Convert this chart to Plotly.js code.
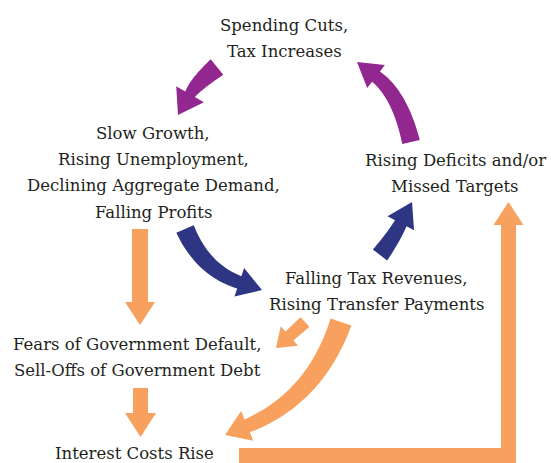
<!DOCTYPE html>
<html>
<head>
<meta charset="utf-8">
<script src="https://cdn.plot.ly/plotly-3.0.1.min.js"></script>
<style>html,body{margin:0;padding:0;background:#fff}#chart{width:551px;height:463px}</style>
</head>
<body>
<div id="chart"></div>
<script>
// ---- Diagram content (node labels, one entry per text line) ----
const nodeNames = ["cuts", "slow", "deficits", "taxrev", "fears", "interest"];
const nodeLines = [
  ["Spending Cuts,", "Tax Increases"],
  ["Slow Growth,", "Rising Unemployment,", "Declining Aggregate Demand,", "Falling Profits"],
  ["Rising Deficits and/or", "Missed Targets"],
  ["Falling Tax Revenues,", "Rising Transfer Payments"],
  ["Fears of Government Default,", "Sell-Offs of Government Debt"],
  ["Interest Costs Rise"]
];
// Links between nodes (from -> to) and their colour group
const linkFrom = ["cuts", "deficits", "slow", "taxrev", "slow", "fears", "taxrev", "taxrev", "interest"];
const linkTo   = ["slow", "cuts", "taxrev", "deficits", "fears", "interest", "fears", "interest", "deficits"];
const linkGroup = ["austerity", "austerity", "recession", "recession", "debt", "debt", "debt", "debt", "debt"];

// ---- Layout / geometry (pixel space, y down) ----
const W = 551, H = 463;
const FONT = "DejaVu Serif";
const FONT_SIZE = 16.5;
const LINE_GAP = 26.4;
// centre x and y of the first text line of each node
const nodePos = {
  cuts: [284, 25], slow: [153, 133], deficits: [455, 160],
  taxrev: [376, 278], fears: [137, 344], interest: [134, 453]
};
const groupColor = { austerity: "#92278F", recession: "#2E3583", debt: "#F8A15F" };
// arrow geometry for each link: tail, control, tip, tail width, neck width, head width, head length
const arrowGeom = [
  { tail: [217, 67], ctrl: [196, 84], tip: [178, 115], w0: 20, w1: 11, hw: 32, hl: 24 },
  { tail: [411, 142], ctrl: [400, 95], tip: [357, 62], w0: 18, w1: 13, hw: 29, hl: 24 },
  { tail: [185, 229], ctrl: [203, 270], tip: [262, 290], w0: 19, w1: 13, hw: 30, hl: 24 },
  { tail: [380, 255], ctrl: [393, 238], tip: [412, 202], w0: 18, w1: 13, hw: 30, hl: 24 },
  { tail: [140, 229], ctrl: null, tip: [140, 325], w0: 16, w1: 16, hw: 30, hl: 23 },
  { tail: [140.5, 388], ctrl: null, tip: [140.5, 437], w0: 15, w1: 15, hw: 31, hl: 24 },
  { tail: [305, 322], ctrl: null, tip: [276, 348], w0: 13, w1: 12, hw: 26, hl: 18 },
  { tail: [341, 322], ctrl: [315, 398], tip: [225, 435], w0: 22, w1: 14, hw: 32, hl: 24 },
  { elbow: { x0: 239, yTop: 448, yBot: 463, xL: 501, xR: 516 }, tip: [508.5, 202], hw: 30, hl: 23 }
];

function norm(v) { const l = Math.hypot(v[0], v[1]) || 1; return [v[0] / l, v[1] / l]; }

function curvedArrowPath(g) {
  const p0 = g.tail, tip = g.tip;
  const c0 = g.ctrl || [(p0[0] + tip[0]) / 2, (p0[1] + tip[1]) / 2];
  const d = norm([tip[0] - c0[0], tip[1] - c0[1]]);
  const B = [tip[0] - g.hl * d[0], tip[1] - g.hl * d[1]];
  const c = g.ctrl || [(p0[0] + B[0]) / 2, (p0[1] + B[1]) / 2];
  const N = 24, left = [], right = [];
  for (let i = 0; i <= N; i++) {
    const t = i / N, u = 1 - t;
    const p = [u * u * p0[0] + 2 * u * t * c[0] + t * t * B[0], u * u * p0[1] + 2 * u * t * c[1] + t * t * B[1]];
    const der = norm([2 * u * (c[0] - p0[0]) + 2 * t * (B[0] - c[0]), 2 * u * (c[1] - p0[1]) + 2 * t * (B[1] - c[1])]);
    const n = [-der[1], der[0]];
    const w = (g.w0 + (g.w1 - g.w0) * t) / 2;
    left.push([p[0] + n[0] * w, p[1] + n[1] * w]);
    right.push([p[0] - n[0] * w, p[1] - n[1] * w]);
  }
  const nE = [-d[1], d[0]];
  const pts = left.slice();
  pts.push([B[0] + nE[0] * g.hw / 2, B[1] + nE[1] * g.hw / 2]);
  pts.push(tip);
  pts.push([B[0] - nE[0] * g.hw / 2, B[1] - nE[1] * g.hw / 2]);
  for (let i = right.length - 1; i >= 0; i--) pts.push(right[i]);
  return "M" + pts.map(p => p[0].toFixed(2) + "," + p[1].toFixed(2)).join("L") + "Z";
}

function elbowArrowPath(g) {
  const e = g.elbow, tip = g.tip, baseY = tip[1] + g.hl;
  const pts = [
    [e.x0, e.yTop], [e.xL, e.yTop], [e.xL, baseY], [tip[0] - g.hw / 2, baseY], tip,
    [tip[0] + g.hw / 2, baseY], [e.xR, baseY], [e.xR, e.yBot], [e.x0, e.yBot]
  ];
  return "M" + pts.map(p => p[0] + "," + p[1]).join("L") + "Z";
}

const shapes = arrowGeom.map((g, i) => ({
  type: "path", xref: "x", yref: "y", layer: "below",
  path: g.elbow ? elbowArrowPath(g) : curvedArrowPath(g),
  fillcolor: groupColor[linkGroup[i]], line: { width: 0 }
}));

const annotations = [];
nodeNames.forEach((n, i) => {
  nodeLines[i].forEach((line, j) => {
    annotations.push({
      x: nodePos[n][0], y: nodePos[n][1] + j * LINE_GAP, xref: "x", yref: "y",
      text: line, showarrow: false, xanchor: "center", yanchor: "middle", align: "center",
      font: { family: FONT, size: FONT_SIZE, color: "#231F20" }
    });
  });
});

const layout = {
  width: W, height: H, margin: { l: 0, r: 0, t: 0, b: 0 },
  paper_bgcolor: "#ffffff", plot_bgcolor: "#ffffff", showlegend: false,
  font: { family: FONT },
  xaxis: { range: [0, W], visible: false, fixedrange: true },
  yaxis: { range: [H, 0], visible: false, fixedrange: true },
  shapes: shapes, annotations: annotations
};
Plotly.newPlot("chart", [{ x: [], y: [], type: "scatter", hoverinfo: "skip" }], layout, { staticPlot: true, displayModeBar: false });
</script>
</body>
</html>
